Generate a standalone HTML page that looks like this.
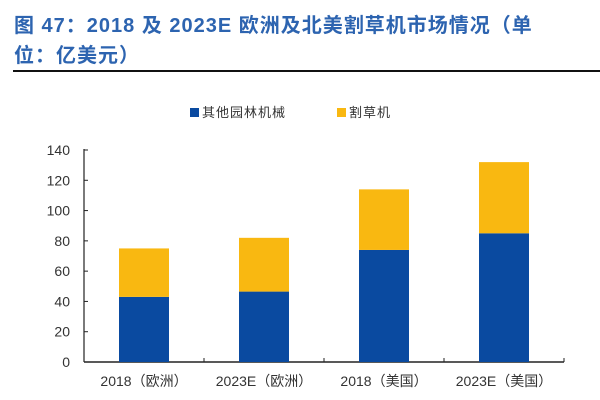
<!DOCTYPE html>
<html><head><meta charset="utf-8"><style>
body{margin:0;width:600px;height:400px;background:#fff;overflow:hidden;font-family:"Liberation Sans","Noto Sans CJK SC",sans-serif}
.t{position:absolute;left:14px;color:#2d64b0;font-weight:bold;font-size:20px;letter-spacing:1px;white-space:nowrap}
</style></head><body>
<div class="t" style="top:9px">图 47：2018 及 2023E 欧洲及北美割草机市场情况（单</div>
<div class="t" style="top:39px">位：亿美元）</div>
<div style="position:absolute;left:13px;top:70px;width:587px;height:2px;background:#111"></div>
<svg id="c" width="600" height="400" style="position:absolute;left:0;top:0"></svg>
<script>
const categories=["2018（欧洲）","2023E（欧洲）","2018（美国）","2023E（美国）"];
const otherValues=[43,46.5,74,85];
const mowerValues=[32,35.5,40,47];
const yTicks=[0,20,40,60,80,100,120,140];
const seriesNames=["其他园林机械","割草机"];
const colors=["#0a4aa0","#f9b811"];
const NS="http://www.w3.org/2000/svg",svg=document.getElementById('c');
const L=84,R=564,Y0=362,Y1=150,ymax=140;
const y=v=>Y0-(Y0-Y1)*v/ymax;
const bw=(R-L)/categories.length;
const x=i=>L+bw*i+bw/2;
function el(t,a,p){const e=document.createElementNS(NS,t);for(const k in a)e.setAttribute(k,a[k]);(p||svg).appendChild(e);return e;}
// axes
let a=el('line',{x1:L,y1:Y1-1,x2:L,y2:Y0,stroke:'#222','stroke-width':1.2});

a=el('line',{x1:L,y1:Y0,x2:R,y2:Y0,stroke:'#222','stroke-width':1.5});

yTicks.forEach(v=>{
 let t=el('line',{x1:L,y1:y(v),x2:L+4,y2:y(v),stroke:'#222'});
 
 let s=el('text',{x:L-14,y:y(v)+5,'text-anchor':'end','font-size':14,fill:'#333'});s.textContent=v;
 
});
for(let i=0;i<=categories.length;i++){
 let t=el('line',{x1:L+bw*i,y1:Y0,x2:L+bw*i,y2:Y0-4,stroke:'#222'});
 
}
categories.forEach((c,i)=>{
 let b=el('rect',{x:x(i)-25,y:y(otherValues[i]),width:50,height:Y0-y(otherValues[i]),fill:colors[0]});
 
 let tot=otherValues[i]+mowerValues[i];
 b=el('rect',{x:x(i)-25,y:y(tot),width:50,height:y(otherValues[i])-y(tot),fill:colors[1]});
 
 let s=el('text',{x:x(i),y:Y0+24,'text-anchor':'middle','font-size':14,fill:'#333'});s.textContent=c;
 
});
// legend
const lx=[190,337];
seriesNames.forEach((n,i)=>{
 let r=el('rect',{x:lx[i],y:108,width:9,height:9,fill:colors[i]});
 
 let s=el('text',{x:lx[i]+12,y:117,'font-size':13,fill:'#333','letter-spacing':1});s.textContent=n;
 
});
</script>
</body></html>
